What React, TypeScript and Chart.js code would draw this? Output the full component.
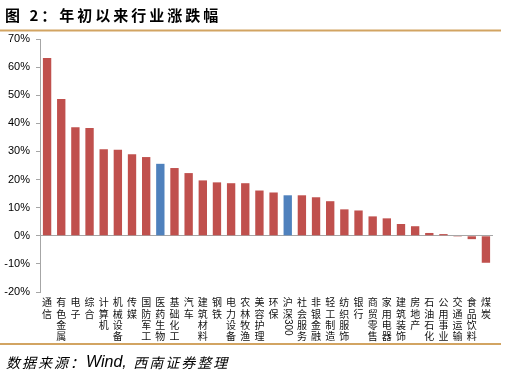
import React, { useEffect, useRef } from "react";
import { Chart, registerables } from "chart.js";

Chart.register(...registerables);

const categories: string[] = [
  "通信", "有色金属", "电子", "综合", "计算机", "机械设备", "传媒", "国防军工",
  "医药生物", "基础化工", "汽车", "建筑材料", "钢铁", "电力设备", "农林牧渔", "美容护理",
  "环保", "沪深300", "社会服务", "非银金融", "轻工制造", "纺织服饰", "银行", "商贸零售",
  "家用电器", "建筑装饰", "房地产", "石油石化", "公用事业", "交通运输", "食品饮料", "煤炭",
];

const values: number[] = [
  63.2, 48.7, 38.6, 38.3, 30.8, 30.6, 29.0, 28.0,
  25.6, 24.1, 22.3, 19.7, 19.0, 18.7, 18.7, 16.1,
  15.4, 14.4, 14.4, 13.7, 12.3, 9.4, 9.0, 6.9,
  6.2, 4.2, 3.4, 1.0, 0.6, -0.3, -1.2, -9.6,
];

const highlighted: string[] = ["医药生物", "沪深300"];

const yTicks = { min: -20, max: 70, step: 10 };

const titleText = "图 2：年初以来行业涨跌幅";
const sourcePrefix = "数据来源：";
const sourceWind = "Wind, ";
const sourceSuffix = "西南证券整理";

const RED = "#C0504D";
const BLUE = "#4F81BD";
const RULE = "#D2A462";

const decorPlugin = {
  id: "decor",
  afterDraw(chart: any) {
    const ctx = chart.ctx as CanvasRenderingContext2D;
    ctx.save();
    // title
    ctx.fillStyle = "#000";
    ctx.font = "bold 15px 'Noto Sans CJK SC', 'Liberation Sans', sans-serif";
    ctx.textBaseline = "middle";
    ctx.textAlign = "left";
    (ctx as any).letterSpacing = "3px";
    ctx.fillText(titleText, 5, 15);
    (ctx as any).letterSpacing = "0px";
    // rules
    ctx.strokeStyle = RULE;
    ctx.lineWidth = 2;
    ctx.beginPath();
    ctx.moveTo(0, 30.5);
    ctx.lineTo(501, 30.5);
    ctx.moveTo(0, 344);
    ctx.lineTo(501, 344);
    ctx.stroke();
    // source
    ctx.fillStyle = "#000";
    let sx = 6;
    ctx.font = "italic 14px 'Noto Sans CJK SC', sans-serif";
    (ctx as any).letterSpacing = "2px";
    ctx.fillText(sourcePrefix, sx, 363);
    sx += ctx.measureText(sourcePrefix).width;
    ctx.font = "italic 16px 'Liberation Sans', Arial, sans-serif";
    (ctx as any).letterSpacing = "0px";
    ctx.fillText(sourceWind, sx, 363);
    sx += ctx.measureText(sourceWind).width + 2;
    ctx.font = "italic 14px 'Noto Sans CJK SC', sans-serif";
    (ctx as any).letterSpacing = "2px";
    ctx.fillText(sourceSuffix, sx, 363);
    (ctx as any).letterSpacing = "0px";
    // x labels (vertical)
    const xs = chart.scales.x;
    ctx.font = "10px 'Noto Sans CJK SC', sans-serif";
    ctx.fillStyle = "#111";
    ctx.textAlign = "center";
    ctx.textBaseline = "middle";
    const y0 = 302.7;
    const pitch = 11.3;
    categories.forEach((label, i) => {
      const x = xs.getPixelForValue(i);
      const m = label.match(/^(\D*)(\d+)$/);
      const chars = m ? Array.from(m[1]) : Array.from(label);
      chars.forEach((c, j) => {
        ctx.fillText(c, x, y0 + j * pitch);
      });
      if (m) {
        ctx.save();
        ctx.translate(x, y0 + chars.length * pitch + 2);
        ctx.rotate(Math.PI / 2);
        ctx.font = "10px 'Liberation Sans', sans-serif";
        ctx.fillText(m[2], 0, 0);
        ctx.restore();
      }
    });
    ctx.restore();
  },
};

export default function App() {
  const ref = useRef<HTMLCanvasElement | null>(null);
  useEffect(() => {
    if (!ref.current) return;
    const chart = new Chart(ref.current, {
      type: "bar",
      data: {
        labels: categories,
        datasets: [
          {
            data: values,
            backgroundColor: categories.map((c) => (highlighted.includes(c) ? BLUE : RED)),
            barPercentage: 0.59,
            categoryPercentage: 1,
          },
        ],
      },
      options: {
        responsive: false,
        animation: false,
        layout: { padding: { left: 0, top: 39, right: 14, bottom: 85 } },
        plugins: { legend: { display: false }, tooltip: { enabled: false }, title: { display: false } },
        scales: {
          x: { display: false },
          y: {
            min: yTicks.min,
            max: yTicks.max,
            afterFit: (s: any) => {
              s.width = 40;
            },
            ticks: {
              stepSize: yTicks.step,
              padding: 6,
              color: "#000",
              font: { family: "'Liberation Sans', Arial, sans-serif", size: 11 },
              callback: (v: any) => `${v}%`,
            },
            grid: {
              color: (c: any) => (c.tick && c.tick.value === 0 ? "#A6A6A6" : "rgba(0,0,0,0)"),
              tickColor: "#A6A6A6",
              tickLength: 4,
              lineWidth: 1,
            },
            border: { display: true, color: "#A6A6A6", width: 1 },
          },
        },
      },
      plugins: [decorPlugin],
    });
    return () => chart.destroy();
  }, []);
  return (
    <div style={{ position: "fixed", left: 0, top: 0, width: 507, height: 377, background: "#fff" }}>
      <canvas ref={ref} width={507} height={377} style={{ display: "block", width: 507, height: 377 }} />
    </div>
  );
}
